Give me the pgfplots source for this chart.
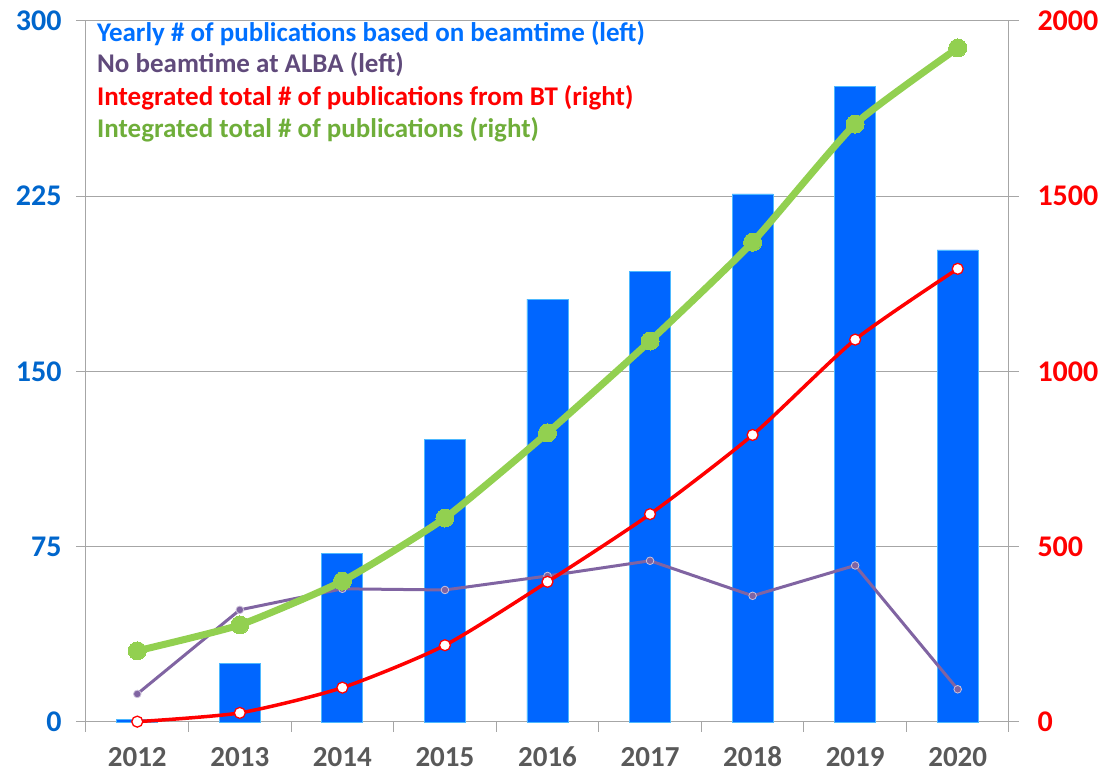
\documentclass[border=0pt]{standalone}
\usepackage{fontspec}
\setmainfont{Carlito}
\usepackage{pgfplots}
\pgfplotsset{compat=1.18}
\definecolor{barblue}{HTML}{0066FF}
\definecolor{baredge}{HTML}{4DB8FF}
\definecolor{purp}{HTML}{8064A2}
\definecolor{purptext}{HTML}{604A7B}
\definecolor{grn}{HTML}{92D050}
\definecolor{grntext}{HTML}{6FAE3A}
\definecolor{lblue}{HTML}{0066CC}
\definecolor{gridgray}{HTML}{A6A6A6}
\definecolor{xlab}{HTML}{595959}
\definecolor{legblue}{HTML}{0070FF}
\begin{document}
\begin{tikzpicture}
\useasboundingbox (0,0) rectangle (1104pt,776pt);
\pgfplotsset{
  common/.style={
    at={(86pt,54pt)}, anchor=south west,
    scale only axis, width=923pt, height=701pt,
    xmin=-0.5, xmax=8.5,
    tick align=outside, major tick length=10pt,
    /pgf/number format/assume math mode=true,
    tick style={draw=gridgray, line width=1pt},
    axis line style={-, draw=gridgray, line width=1pt},
    clip=false,
  }
}
\begin{axis}[common,
  ymin=0, ymax=300,
  axis x line*=bottom, axis y line*=left,
  ytick={0,75,150,225,300}, yticklabels={0,75,150,225,300},
  ymajorgrids, grid style={draw=gridgray, line width=1pt},
  yticklabel style={font=\fontsize{30}{30}\selectfont\bfseries, text=lblue, xshift=-11pt},
  xtick={-0.5,0.5,1.5,2.5,3.5,4.5,5.5,6.5,7.5,8.5}, xticklabels={},
  extra x ticks={0,1,2,3,4,5,6,7,8},
  extra x tick labels={2012,2013,2014,2015,2016,2017,2018,2019,2020},
  extra x tick style={major tick length=0pt, grid=none},
  xticklabel style={font=\fontsize{29}{29}\selectfont\bfseries, text=xlab, inner sep=0pt, text height=20pt, text depth=0pt, yshift=-24pt},
]
\addplot[ybar, bar width=0.4, fill=barblue, draw=baredge, line width=0.8pt]
  coordinates {(0,1) (1,25) (2,72) (3,121) (4,181) (5,193) (6,226) (7,272) (8,202)};
\addplot[purp, line width=3pt, mark=*, mark size=3.8pt,
  mark options={fill=purp, draw=purp!40!white, line width=0.8pt}]
  coordinates {(0,12) (1,48) (2,57) (3,56.5) (4,62.5) (5,69) (6,54) (7,67) (8,14)};
\end{axis}
\begin{axis}[common,
  ymin=0, ymax=2000,
  axis y line*=right, axis x line=none,
  ytick={0,500,1000,1500,2000}, yticklabels={0,500,1000,1500,2000},
  yticklabel style={font=\fontsize{30}{30}\selectfont\bfseries, text=red, xshift=15pt},
]
\addplot[red, line width=3.5pt, smooth, tension=0.4, mark=*, mark size=5.5pt,
  mark options={fill=white, draw=red, line width=1.3pt}]
  coordinates {(0,1) (1,26) (2,98) (3,219) (4,400) (5,593) (6,819) (7,1091) (8,1293)};
\addplot[grn, line width=7pt, smooth, tension=0.3, mark=*, mark size=9pt,
  mark options={fill=grn, draw=grn, line width=0pt}]
  coordinates {(0,203) (1,277) (2,402) (3,582) (4,825) (5,1087) (6,1369) (7,1706) (8,1923)};
\end{axis}
\begin{scope}[every node/.style={anchor=base west, inner sep=0pt, font=\fontsize{27}{27}\selectfont\bfseries}]
\node[text=legblue] at (97pt,734pt) {Yearly \# of publications based on beamtime (left)};
\node[text=purptext] at (97pt,703pt) {No beamtime at ALBA (left)};
\node[text=red] at (97pt,670pt) {Integrated total \# of publications from BT (right)};
\node[text=grntext] at (97pt,638pt) {Integrated total \# of publications (right)};
\end{scope}
\end{tikzpicture}
\end{document}
